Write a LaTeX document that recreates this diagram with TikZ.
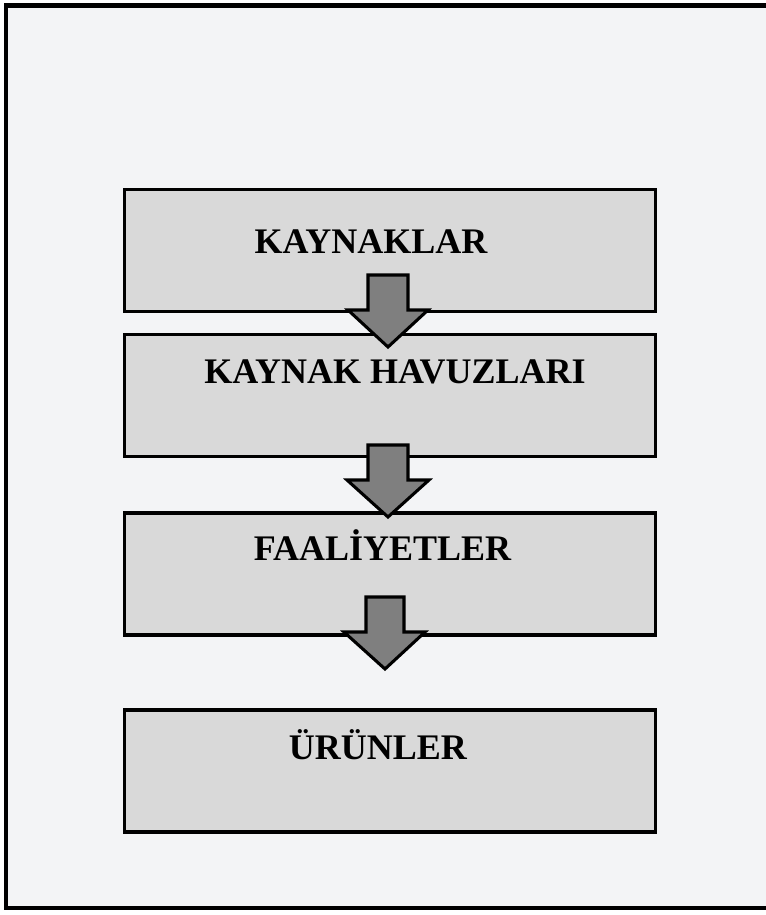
\documentclass[tikz,border=0pt]{standalone}
\usepackage{fontspec}
\setmainfont{Liberation Serif}
\definecolor{bgc}{HTML}{F3F4F6}
\definecolor{boxc}{HTML}{D9D9D9}
\definecolor{arrc}{HTML}{7F7F7F}
\begin{document}
\begin{tikzpicture}[x=0.75pt,y=-0.75pt,
  box/.style={draw=black,line width=2.3pt,fill=boxc,minimum width=398.25pt,minimum height=91.5pt,inner sep=0pt},
  lbl/.style={font=\fontsize{27pt}{31pt}\selectfont\bfseries,inner sep=0pt,anchor=base},
  blockarrow/.style={draw=black,line width=2.3pt,fill=arrc,line join=miter}]
\useasboundingbox (0,0) rectangle (766,915);
\fill[white] (0,0) rectangle (766,915);
\draw[line width=3.4pt,fill=bgc] (6,5.5) rectangle (800,908);
% boxes
\node[box] (b1) at (390,250.5) {};
\node[box] (b2) at (390,395.5) {};
\node[box] (b3) at (390,574) {};
\node[box] (b4) at (390,771) {};
% labels
\node[lbl] (t1) at (371,253) {KAYNAKLAR};
\node[lbl] (t2) at (395,383) {KAYNAK HAVUZLARI};
\node[lbl] (t3) at (382.5,560) {FAALİYETLER};
\node[lbl] (t4) at (378,759) {ÜRÜNLER};
% block arrows
\draw[blockarrow] (368,275) -- (408,275) -- (408,310) -- (428,310) -- (388,347) -- (348,310) -- (368,310) -- cycle;
\draw[blockarrow] (368,445) -- (408,445) -- (408,480) -- (429,480) -- (388,517) -- (347,480) -- (368,480) -- cycle;
\draw[blockarrow] (366,597) -- (404,597) -- (404,632) -- (425,632) -- (385,669) -- (344,632) -- (366,632) -- cycle;
\end{tikzpicture}
\end{document}
